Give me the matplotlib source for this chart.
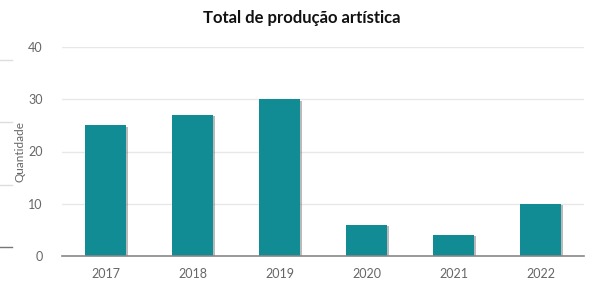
import matplotlib.pyplot as plt
import matplotlib.patheffects as pe
from matplotlib.lines import Line2D

anos = ['2017', '2018', '2019', '2020', '2021', '2022']
quantidade = [25, 27, 30, 6, 4, 10]
yticks = [0, 10, 20, 30, 40]

plt.rcParams['font.family'] = ['Lato', 'DejaVu Sans']

fig = plt.figure(figsize=(5.93, 2.83), dpi=100)
ax = fig.add_axes([62/593, 27/283, 522/593, 209/283])

bars = ax.bar(range(len(anos)), quantidade, width=0.48, color='#118c94', zorder=3)
for b in bars:
    b.set_path_effects([pe.SimplePatchShadow(offset=(1.5, -1), shadow_rgbFace='#666666', alpha=0.45), pe.Normal()])

ax.set_xlim(-0.5, len(anos) - 0.5)
ax.set_ylim(0, 40)
ax.set_yticks(yticks)
ax.set_xticks(range(len(anos)))
ax.set_xticklabels(anos)
ax.grid(axis='y', color='#e8e8e8', lw=1, zorder=0)
for s in ['top', 'right', 'left']:
    ax.spines[s].set_visible(False)
ax.spines['bottom'].set_color('#888888')
ax.spines['bottom'].set_linewidth(1.2)
ax.spines['bottom'].set_zorder(4)
ax.tick_params(axis='both', length=0, labelsize=9, labelcolor='#666666')
ax.tick_params(axis='x', pad=9)
ax.tick_params(axis='y', pad=14)
ax.set_ylabel('Quantidade', fontsize=8.5, color='#666666')
ax.yaxis.set_label_coords((25 - 62) / 522, 0.5)

fig.text(302/593, 1 - 18/283, 'Total de produção artística', ha='center', va='center',
         fontsize=12, fontweight='bold', color='#111111')

# bits of a neighbouring chart cut off at the left edge
for ypix, c in [(60, '#dddddd'), (122, '#dddddd'), (185, '#dddddd'), (247, '#777777')]:
    fig.add_artist(Line2D([0, 12/593], [1 - ypix/283] * 2, color=c, lw=1))

fig.savefig('out.png', dpi=100)
